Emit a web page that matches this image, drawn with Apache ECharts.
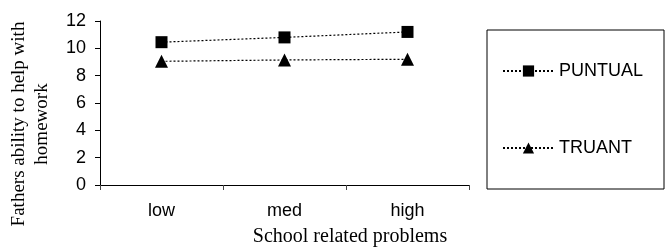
<!DOCTYPE html>
<html>
<head>
<meta charset="utf-8">
<script src="https://cdn.jsdelivr.net/npm/echarts@6/dist/echarts.min.js"></script>
<style>
  html, body { margin: 0; padding: 0; background: #fff; }
  #chart { width: 667px; height: 249px; }
</style>
</head>
<body>
<div id="chart"></div>
<script>
// 分类和数据
var categories = ['low', 'med', 'high']
var puntual = [10.45, 10.8, 11.2]
var truant = [9.05, 9.15, 9.2]
var yTicks = { min: 0, max: 12, interval: 2 }
var xTitle = 'School related problems'
var yTitle = 'Fathers ability to help with\nhomework'

var sans = 'Liberation Sans, Arial, sans-serif'
var serif = 'Liberation Serif, Times New Roman, serif'

var chart = echarts.init(document.getElementById('chart'))

// 公共的折线配置
function lineSeries(name, data, symbol, size) {
  return {
    name: name,
    type: 'line',
    data: data,
    symbol: symbol,
    symbolSize: size,
    itemStyle: { color: '#000' },
    lineStyle: { color: '#000', width: 1.2, type: [2, 2] },
    animation: false
  }
}

var option = {
  animation: false,
  grid: { left: 100, right: 198, top: 21, bottom: 64, outerBoundsMode: 'none' },
  // 坐标轴标题（原图中不在轴中点）
  graphic: [
    {
      type: 'text',
      x: 350,
      y: 237,
      style: {
        text: xTitle,
        font: '20px ' + serif,
        fill: '#000',
        textAlign: 'center',
        textVerticalAlign: 'middle'
      }
    },
    {
      type: 'text',
      x: 31,
      y: 124,
      rotation: Math.PI / 2,
      style: {
        text: yTitle,
        font: '19px ' + serif,
        fill: '#000',
        lineHeight: 23,
        textAlign: 'center',
        textVerticalAlign: 'middle'
      }
    }
  ],
  legend: {
    orient: 'vertical',
    left: 487,
    top: 30,
    padding: [32, 21, 32, 15],
    itemGap: 59,
    itemWidth: 51,
    itemHeight: 14,
    borderColor: '#000',
    borderWidth: 1,
    borderRadius: 0,
    textStyle: { fontFamily: sans, fontSize: 18, color: '#000' },
    data: ['PUNTUAL', 'TRUANT']
  },
  xAxis: {
    type: 'category',
    data: categories,
    boundaryGap: true,
    axisLine: { lineStyle: { color: '#000', width: 1 } },
    axisTick: { show: true, length: 5, lineStyle: { color: '#444' } },
    axisLabel: { fontFamily: sans, fontSize: 18, color: '#000', margin: 17 }
  },
  yAxis: {
    type: 'value',
    min: yTicks.min,
    max: yTicks.max,
    interval: yTicks.interval,
    axisLine: { show: true, lineStyle: { color: '#000', width: 1 } },
    axisTick: { show: true, length: 5, lineStyle: { color: '#000' } },
    splitLine: { show: false },
    axisLabel: { fontFamily: sans, fontSize: 18, color: '#000', margin: 14 }
  },
  series: [
    lineSeries('PUNTUAL', puntual, 'rect', 12),
    lineSeries('TRUANT', truant, 'triangle', 13)
  ]
}

chart.setOption(option, true)
</script>
</body>
</html>
